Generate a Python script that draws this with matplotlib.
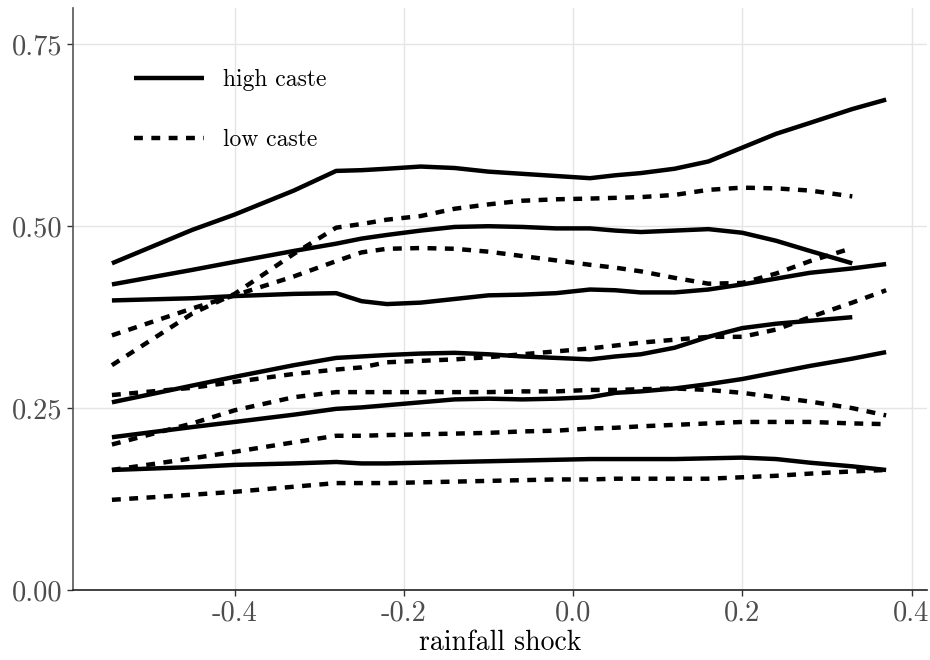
import matplotlib
matplotlib.use("Agg")
import matplotlib.pyplot as plt

plt.rcParams['font.family'] = ['cmr10', 'DejaVu Serif']
plt.rcParams['mathtext.fontset'] = 'cm'
plt.rcParams['axes.unicode_minus'] = False

# rainfall shock grid shared by all curves (short curves stop at 0.33)
shock = [-0.545, -0.45, -0.40, -0.33, -0.28, -0.25, -0.22, -0.18, -0.14, -0.10, -0.06,
         -0.02, 0.02, 0.05, 0.08, 0.12, 0.16, 0.20, 0.24, 0.28, 0.33, 0.37]

high_a = [0.449, 0.495, 0.516, 0.549, 0.576, 0.577, 0.579, 0.582, 0.580, 0.575, 0.572,
          0.569, 0.566, 0.570, 0.573, 0.579, 0.589, 0.608, 0.627, 0.642, 0.661, 0.674]
high_b = [0.420, 0.440, 0.451, 0.466, 0.476, 0.483, 0.488, 0.494, 0.499, 0.500, 0.499,
          0.497, 0.497, 0.494, 0.492, 0.494, 0.496, 0.491, 0.480, 0.466, 0.449]
high_c = [0.398, 0.401, 0.404, 0.407, 0.408, 0.397, 0.393, 0.395, 0.400, 0.405, 0.406,
          0.408, 0.413, 0.412, 0.409, 0.409, 0.413, 0.420, 0.428, 0.436, 0.442, 0.448]
high_d = [0.258, 0.281, 0.293, 0.309, 0.319, 0.321, 0.323, 0.325, 0.326, 0.324, 0.321,
          0.319, 0.317, 0.321, 0.324, 0.333, 0.348, 0.360, 0.366, 0.370, 0.375]
high_e = [0.210, 0.224, 0.231, 0.241, 0.249, 0.251, 0.254, 0.258, 0.262, 0.263, 0.262,
          0.263, 0.265, 0.271, 0.273, 0.277, 0.283, 0.290, 0.299, 0.308, 0.318, 0.327]
high_f = [0.165, 0.169, 0.172, 0.174, 0.176, 0.174, 0.174, 0.175, 0.176, 0.177, 0.178,
          0.179, 0.180, 0.180, 0.180, 0.180, 0.181, 0.182, 0.180, 0.175, 0.170, 0.165]

low_a = [0.309, 0.380, 0.407, 0.462, 0.498, 0.503, 0.509, 0.514, 0.524, 0.530, 0.535,
         0.537, 0.538, 0.539, 0.540, 0.543, 0.550, 0.553, 0.552, 0.549, 0.541]
low_b = [0.350, 0.387, 0.405, 0.431, 0.452, 0.464, 0.469, 0.470, 0.469, 0.465, 0.459,
         0.453, 0.447, 0.443, 0.438, 0.429, 0.421, 0.422, 0.435, 0.452, 0.470]
low_c = [0.268, 0.278, 0.286, 0.297, 0.303, 0.306, 0.313, 0.315, 0.317, 0.320, 0.324,
         0.328, 0.332, 0.336, 0.340, 0.344, 0.348, 0.348, 0.358, 0.375, 0.395, 0.412]
low_d = [0.200, 0.229, 0.247, 0.265, 0.272, 0.272, 0.272, 0.272, 0.272, 0.272, 0.273,
         0.273, 0.275, 0.275, 0.276, 0.277, 0.275, 0.271, 0.265, 0.259, 0.250, 0.240]
low_e = [0.165, 0.181, 0.190, 0.203, 0.212, 0.212, 0.213, 0.214, 0.215, 0.216, 0.218,
         0.219, 0.222, 0.223, 0.225, 0.227, 0.229, 0.231, 0.231, 0.231, 0.229, 0.228]
low_f = [0.124, 0.131, 0.135, 0.142, 0.147, 0.147, 0.147, 0.148, 0.149, 0.150, 0.151,
         0.152, 0.152, 0.153, 0.153, 0.153, 0.153, 0.155, 0.157, 0.160, 0.163, 0.165]

high_curves = [high_a, high_b, high_c, high_d, high_e, high_f]
low_curves = [low_a, low_b, low_c, low_d, low_e, low_f]

x_ticks = [-0.4, -0.2, 0.0, 0.2, 0.4]
x_labels = ['-0.4', '-0.2', '0.0', '0.2', '0.4']
y_ticks = [0.0, 0.25, 0.5, 0.75]
y_labels = ['0.00', '0.25', '0.50', '0.75']

fig = plt.figure(figsize=(9.3, 6.6), dpi=100)
ax = fig.add_axes([0.0785, 0.106, 0.918, 0.882])

lw = 3.2
dash = (0, (2.0, 1.9))
for i, y in enumerate(high_curves):
    ax.plot(shock[:len(y)], y, color='black', lw=lw, solid_capstyle='butt',
            solid_joinstyle='round', label='high caste' if i == 0 else None, zorder=3)
for i, y in enumerate(low_curves):
    ax.plot(shock[:len(y)], y, color='black', lw=lw, linestyle=dash, dash_capstyle='butt',
            label='low caste' if i == 0 else None, zorder=3)

ax.set_xlim(-0.591, 0.418)
ax.set_ylim(0, 0.8)
ax.set_xticks(x_ticks)
ax.set_xticklabels(x_labels)
ax.set_yticks(y_ticks)
ax.set_yticklabels(y_labels)
ax.tick_params(labelsize=20.5, labelcolor='#4d4d4d', color='#333333', length=4, width=1)
ax.grid(True, color='#e5e5e5', lw=1)
ax.set_axisbelow(True)

for side in ['top', 'right']:
    ax.spines[side].set_visible(False)
ax.spines['left'].set_color('#555555')
ax.spines['bottom'].set_color('#222222')
ax.spines['left'].set_linewidth(1.2)
ax.spines['bottom'].set_linewidth(1.2)

ax.set_xlabel('rainfall shock', fontsize=20, labelpad=2)

ax.legend(loc='upper left', bbox_to_anchor=(0.047, 0.932), frameon=False, fontsize=17,
          handlelength=2.95, handletextpad=0.8, labelspacing=1.6)

fig.savefig('out.png', dpi=100)
